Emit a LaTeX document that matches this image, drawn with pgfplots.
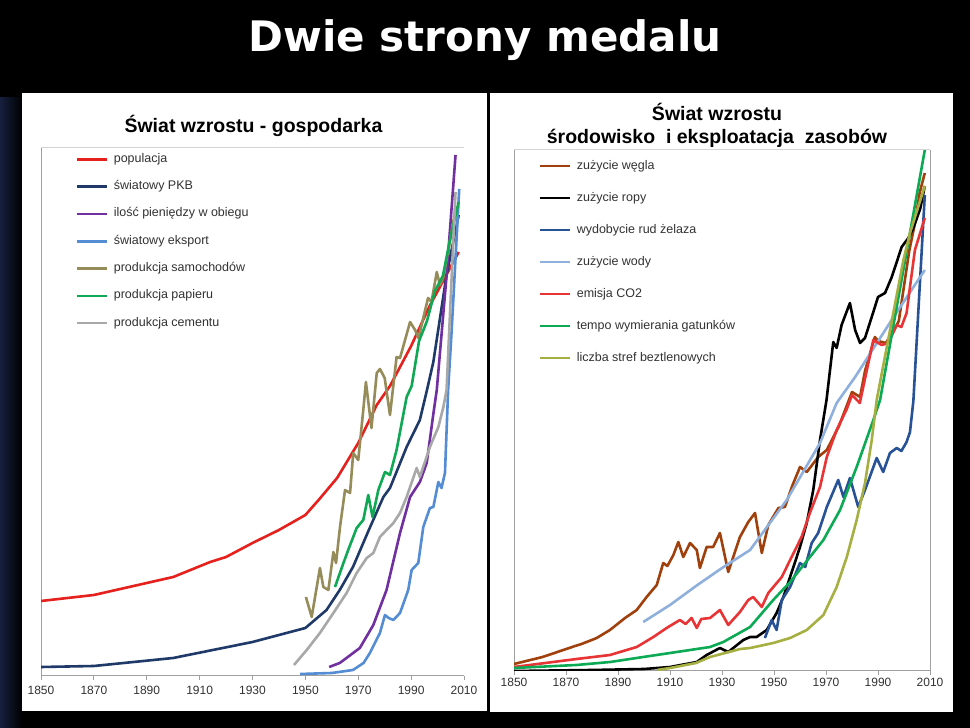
\documentclass[border=0pt]{standalone}
\usepackage{fontspec}
\setmainfont{Liberation Sans}
\newfontfamily\titlefont{DejaVu Sans}
\usepackage{pgfplots}
\pgfplotsset{compat=1.18}

\definecolor{popred}{RGB}{230,32,28}
\definecolor{pkbnavy}{RGB}{31,58,104}
\definecolor{moneyp}{RGB}{112,48,160}
\definecolor{exportb}{RGB}{84,141,212}
\definecolor{carsol}{RGB}{150,140,90}
\definecolor{paperg}{RGB}{16,168,84}
\definecolor{cemg}{RGB}{168,168,168}
\definecolor{coalb}{RGB}{160,64,12}
\definecolor{ironb}{RGB}{40,82,150}
\definecolor{waterb}{RGB}{143,176,220}
\definecolor{co2r}{RGB}{232,52,52}
\definecolor{specg}{RGB}{12,170,84}
\definecolor{hypo}{RGB}{166,176,66}
\definecolor{axgray}{RGB}{160,160,160}
\definecolor{axlight}{RGB}{212,212,212}
\definecolor{ticktext}{RGB}{50,50,50}

\pgfplotsset{
  panel/.style={
    scale only axis, anchor=south west,
    xmin=1850, xmax=2010, ymin=0,
    xtick={1850,1870,...,2010}, ytick=\empty,
    axis x line*=bottom, axis y line*=left,
    axis line style={-, draw=axgray, line width=1pt},
    xtick pos=left, tick align=outside, major tick length=4pt,
    tick style={draw=axgray, line width=0.8pt},
    /pgf/number format/1000 sep=,
    /pgf/number format/assume math mode=true,
    xticklabel style={font=\fontsize{12}{14}\selectfont, text=ticktext},
    every axis plot/.append style={line width=2.6pt, mark=none, line join=round},
    legend cell align=left,
    legend image code/.code={\draw[##1, line width=2.6pt] (0pt,0pt) -- (30pt,0pt);},
  }
}

\begin{document}
\begin{tikzpicture}[x=1pt,y=1pt]
\fill[black] (0,0) rectangle (970,728);
\shade[left color={rgb,255:red,22;green,32;blue,62}, right color=black] (0,0) rectangle (22,630);
\fill[white] (22,17) rectangle (487,635);
\fill[white] (490,16) rectangle (953,635);
\node[white, font=\titlefont\bfseries\fontsize{42}{48}\selectfont, anchor=base] at (485,676) {Dwie strony medalu};
\node[anchor=base, font=\bfseries\fontsize{19.5}{23}\selectfont] at (253.5,595.5) {Świat wzrostu - gospodarka};
\node[anchor=base, font=\bfseries\fontsize{19.5}{23}\selectfont] at (717,607) {Świat wzrostu};
\node[anchor=base, font=\bfseries\fontsize{19.5}{23}\selectfont] at (717,584.5) {środowisko\ \ i eksploatacja\ \ zasobów};

% ---------------- left panel ----------------
\begin{axis}[panel, at={(41pt,52pt)}, width=423pt, height=528pt, ymax=528,
  xticklabel style={yshift=-3pt},
  extra description/.code={\draw[axlight, line width=1pt] (rel axis cs:0,1) -- (rel axis cs:1,1);},
  legend style={draw=none, fill=none, at={(axis description cs:0.0733,0.994)}, anchor=north west,
    font=\fontsize{12.5}{15}\selectfont, text=ticktext, row sep=15.3pt, column sep=6pt,
    nodes={inner sep=0pt, text height=9pt, text depth=3pt}},
]
\addplot[popred] coordinates {(1850,75) (1870,81) (1900,99) (1914,114) (1920,119) (1930,133) (1940,146) (1950,161) (1955,176) (1962,198) (1970,233) (1977,271) (1982,290) (1990,330) (1997,370) (2008,424)};
\addlegendentry{populacja}
\addplot[pkbnavy] coordinates {(1850,9) (1870,10) (1900,18) (1930,34) (1950,48) (1958,66) (1963,86) (1968,109) (1974,146) (1979.5,179) (1982,188) (1988.3,229) (1993.3,256) (1996,286) (1998.4,314) (2003.4,401) (2008,461)};
\addlegendentry{światowy PKB}
\addplot[moneyp] coordinates {(1959,9) (1963,13) (1970.6,28) (1975.7,51) (1980.7,86) (1985.8,143) (1989.6,179) (1993.3,194) (1995.9,213) (1998.4,262) (1999.7,286) (2003.4,400) (2006.8,521)};
\addlegendentry{ilość pieniędzy w obiegu}
\addplot[exportb] coordinates {(1948,2) (1960,3) (1968,6) (1972,13) (1974.4,23) (1978.2,43) (1980.1,61) (1981.5,58) (1983.3,56) (1985.8,63) (1988.9,86) (1990.2,106) (1992.7,113) (1994.6,149) (1997.1,168) (1998.4,169) (2000.3,194) (2001.5,188) (2002.8,203) (2004,286) (2005.3,344) (2008.2,487)};
\addlegendentry{światowy eksport}
\addplot[carsol] coordinates {(1950.2,79) (1952.4,59) (1953.6,78) (1955.5,108) (1956.8,89) (1958.7,86) (1960.6,124) (1961.6,113) (1963.1,149) (1965,186) (1966.9,183) (1968.1,223) (1970,216) (1971.9,266) (1972.9,294) (1975,248) (1977,303) (1978.2,307) (1980,298) (1982,261) (1984.5,319) (1985.8,318) (1989.6,354) (1991.5,346) (1992.8,338) (1996.4,378) (1997.7,374) (1999.7,404) (2000.9,391) (2002.2,399) (2004,425) (2007,470)};
\addlegendentry{produkcja samochodów}
\addplot[paperg] coordinates {(1961.2,89) (1964.4,113) (1966.2,126) (1969.4,148) (1971.9,156) (1973.8,181) (1975.4,159) (1977.6,186) (1980.1,204) (1982,201) (1984.5,226) (1988.3,279) (1990.2,290) (1993,335) (1996,355) (1999,385) (2002,400) (2005,440) (2008,474)};
\addlegendentry{produkcja papieru}
\addplot[cemg] coordinates {(1945.7,11) (1950.5,26) (1955.5,43) (1960.6,63) (1965.6,83) (1969.4,103) (1973.2,118) (1975.7,123) (1978.2,139) (1980.7,146) (1983.3,153) (1985.8,163) (1988.3,179) (1992.1,208) (1993.3,199) (1997.1,229) (2000.3,249) (2002.2,269) (2003.4,286) (2005,380) (2006.8,484)};
\addlegendentry{produkcja cementu}
\end{axis}

% ---------------- right panel ----------------
\begin{axis}[panel, at={(514pt,57pt)}, width=416pt, height=521pt, ymax=521,
  extra description/.code={\draw[axlight, line width=1pt] (rel axis cs:0,1) -- (rel axis cs:1,1);
    \draw[axgray, line width=1pt] (rel axis cs:1,0) -- (rel axis cs:1,1);},
  legend style={draw=none, fill=none, at={(axis description cs:0.0505,0.985)}, anchor=north west,
    font=\fontsize{12.5}{15}\selectfont, text=ticktext, row sep=20pt, column sep=6pt,
    nodes={inner sep=0pt, text height=9pt, text depth=3pt}},
]
\addplot[coalb] coordinates {(1850,7) (1861,14) (1873.5,25) (1876,27) (1881.8,33) (1886.9,41) (1892.7,53) (1897.2,61) (1901,74) (1904.9,86) (1907.4,108) (1909,105) (1911.3,116) (1913.2,129) (1915.1,114) (1917.7,128) (1920.3,121) (1921.5,103) (1924.1,124) (1926.6,124) (1929.2,138) (1932.4,99) (1936.9,134) (1940.1,149) (1942.7,158) (1945.3,118) (1947.8,146) (1951.7,163) (1954.2,164) (1957,185) (1960,204) (1962.6,199) (1967,214) (1970.3,221) (1975,245) (1980,279) (1983.1,274) (1985,300) (1988.8,334) (1990,330) (1993,328) (1996,340) (1998,350) (2000,385) (2002,420) (2004,445) (2006,478) (2008,498)};
\addlegendentry{zużycie węgla}
\addplot[black] coordinates {(1850,0) (1880,1) (1900,2) (1910,4) (1920.3,9) (1924.1,16) (1929.2,23) (1932.4,19) (1938.2,31) (1940.8,34) (1943.3,34) (1947.2,41) (1951,58) (1953.6,74) (1956.2,94) (1960,124) (1962.6,148) (1965.1,181) (1967.7,231) (1970.2,271) (1972.8,329) (1974.1,323) (1976,346) (1979.2,368) (1981.2,341) (1983.1,328) (1985,333) (1988.2,359) (1990,374) (1992.7,378) (1995.3,394) (1997.2,409) (1999.1,424) (2001.7,433) (2003.6,443) (2006.2,462) (2008,485)};
\addlegendentry{zużycie ropy}
\addplot[ironb] coordinates {(1946.5,33) (1949.1,51) (1951,41) (1953,71) (1956.2,84) (1960,108) (1962,104) (1964.5,128) (1967,138) (1970.3,164) (1974.7,191) (1976.7,174) (1979.2,193) (1982.4,164) (1985,181) (1989.5,213) (1992,199) (1994.6,218) (1997.2,223) (1999,220) (2001,229) (2002.3,239) (2003.6,270) (2008,476)};
\addlegendentry{wydobycie rud żelaza}
\addplot[waterb] coordinates {(1899.7,49) (1910,66) (1920,85) (1930,103) (1940.8,121) (1954.9,171) (1967.7,228) (1974.1,268) (1981.2,294) (1996,354) (2008,401)};
\addlegendentry{zużycie wody}
\addplot[co2r] coordinates {(1850,4) (1874.1,12) (1886.9,16) (1897.2,24) (1903.6,34) (1908.7,43) (1913.8,51) (1916,47) (1918.3,53) (1920.3,43) (1922,52) (1925.4,53) (1929.2,61) (1932.4,46) (1936.9,59) (1940.1,71) (1942,74) (1945.3,64) (1947.8,78) (1953,94) (1956.2,111) (1960.6,134) (1963.8,158) (1967.7,184) (1970.3,214) (1974.1,241) (1978,262) (1980,276) (1983,268) (1986.3,308) (1988.2,331) (1991.4,326) (1994,328) (1997.2,346) (1999,344) (2001,358) (2002.3,384) (2004.2,421) (2008,453)};
\addlegendentry{emisja CO2}
\addplot[specg] coordinates {(1850,3) (1874,6) (1887,9) (1899.7,14) (1912.6,19) (1925.4,24) (1930.5,29) (1940.8,44) (1949.7,71) (1956.2,89) (1969,131) (1975.4,161) (1981.8,204) (1988.2,251) (1990.8,271) (2008,521)};
\addlegendentry{tempo wymierania gatunków}
\addplot[hypo] coordinates {(1905,1) (1910,3) (1920,8) (1925.4,14) (1937,22) (1940.8,23) (1949.7,28) (1956.2,33) (1962.6,41) (1969,56) (1974.1,84) (1978,114) (1981.8,151) (1985,188) (1987.6,231) (1989.5,271) (1999.7,410) (2002.3,438) (2008,485)};
\addlegendentry{liczba stref beztlenowych}
\end{axis}
\end{tikzpicture}
\end{document}
